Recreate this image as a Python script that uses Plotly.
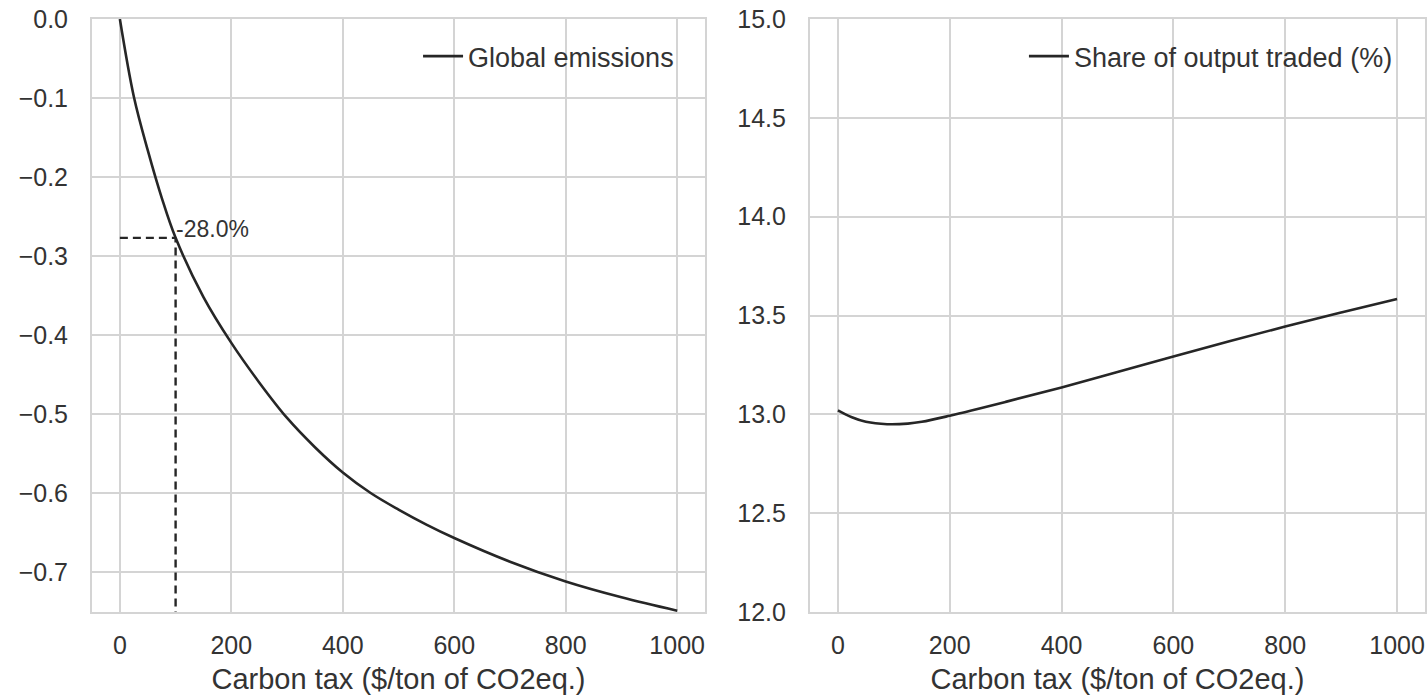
import plotly.graph_objects as go

# ---------------- data ----------------
tax_left = [0, 25, 50, 75, 100, 150, 200, 250, 300, 350, 400, 450, 500, 550, 600, 700, 800, 900, 1000]
emissions = [0.0, -0.098, -0.166, -0.226, -0.277, -0.352, -0.410, -0.460, -0.505, -0.542,
             -0.574, -0.600, -0.621, -0.640, -0.657, -0.687, -0.712, -0.732, -0.749]

tax_right = [0, 25, 50, 88, 125, 150, 200, 300, 400, 500, 600, 700, 800, 900, 1000]
share_traded = [13.02, 12.985, 12.962, 12.95, 12.953, 12.962, 12.993, 13.063, 13.136,
                13.214, 13.293, 13.370, 13.444, 13.515, 13.584]

ref_tax = 100
ref_value = -0.277
ref_label = "-28.0%"

x_ticks = [0, 200, 400, 600, 800, 1000]
y_left_ticks = [0.0, -0.1, -0.2, -0.3, -0.4, -0.5, -0.6, -0.7]
y_left_text = ["0.0", "\u22120.1", "\u22120.2", "\u22120.3", "\u22120.4", "\u22120.5", "\u22120.6", "\u22120.7"]
y_right_ticks = [12.0, 12.5, 13.0, 13.5, 14.0, 14.5, 15.0]
y_right_text = ["12.0", "12.5", "13.0", "13.5", "14.0", "14.5", "15.0"]

x_title = "Carbon tax ($/ton of CO2eq.)"

# ---------------- style ----------------
FONT = "Liberation Sans, Arial, sans-serif"
TXT = "#333333"
GRID = "#d4d4d4"
LINE = "#262626"
TICK_FS = 25
TITLE_FS = 29
LEG_FS = 27
ANN_FS = 23

fig = go.Figure()

fig.add_trace(go.Scatter(
    x=tax_left, y=emissions, mode="lines", name="Global emissions",
    line=dict(color=LINE, width=2.6, shape="spline", smoothing=1.0),
    xaxis="x", yaxis="y", legend="legend", showlegend=True,
))
# dashed reference lines
fig.add_trace(go.Scatter(
    x=[0, ref_tax], y=[ref_value, ref_value], mode="lines",
    line=dict(color=LINE, width=2.4, dash="8px,5px"),
    xaxis="x", yaxis="y", showlegend=False, hoverinfo="skip",
))
fig.add_trace(go.Scatter(
    x=[ref_tax, ref_tax], y=[-0.76, ref_value], mode="lines",
    line=dict(color=LINE, width=2.4, dash="8px,5px"),
    xaxis="x", yaxis="y", showlegend=False, hoverinfo="skip",
))
fig.add_trace(go.Scatter(
    x=tax_right, y=share_traded, mode="lines", name="Share of output traded (%)",
    line=dict(color=LINE, width=2.6, shape="spline", smoothing=1.0),
    xaxis="x2", yaxis="y2", legend="legend2", showlegend=True,
))

fig.add_annotation(
    x=ref_tax, y=ref_value, xref="x", yref="y", text=ref_label, showarrow=False,
    xanchor="left", yanchor="bottom", xshift=-2, yshift=-6,
    font=dict(family=FONT, size=ANN_FS, color=TXT),
)

base = dict(
    showgrid=True, gridcolor=GRID, gridwidth=2,
    showline=True, linecolor=GRID, linewidth=2, mirror=True,
    zeroline=False, ticks="outside", tickcolor="rgba(0,0,0,0)",
    tickfont=dict(family=FONT, size=TICK_FS, color=TXT),
    ticklabeloverflow="allow", automargin=False,
)
xax = dict(base, ticklen=10)
yax = dict(base, ticklen=17)
xtitle = dict(text=x_title, font=dict(family=FONT, size=TITLE_FS, color=TXT), standoff=11)

fig.update_layout(
    width=1428, height=698,
    margin=dict(l=92, r=3, t=19, b=86),
    paper_bgcolor="white", plot_bgcolor="white",
    font=dict(family=FONT, size=TICK_FS, color=TXT),
    xaxis=dict(xax, domain=[0, 0.4599], range=[-50, 1050], tickvals=x_ticks,
               title=xtitle, anchor="y"),
    yaxis=dict(yax, domain=[0, 1], range=[-0.7506, 0.0], tickvals=y_left_ticks,
               ticktext=y_left_text, anchor="x"),
    xaxis2=dict(xax, domain=[0.5386, 1], range=[-50, 1050], tickvals=x_ticks,
                title=xtitle, anchor="y2"),
    yaxis2=dict(yax, domain=[0, 1], range=[12.0, 15.0], tickvals=y_right_ticks,
                ticktext=y_right_text, anchor="x2"),
    legend=dict(x=0.4404, y=0.978, xanchor="right", yanchor="top",
                bgcolor="rgba(255,255,255,0)", font=dict(family=FONT, size=LEG_FS, color=TXT),
                itemwidth=40),
    legend2=dict(x=0.9797, y=0.978, xanchor="right", yanchor="top",
                 bgcolor="rgba(255,255,255,0)", font=dict(family=FONT, size=LEG_FS, color=TXT),
                 itemwidth=40),
    showlegend=True,
)

fig.write_html(
    "out.html",
    config={"displayModeBar": False},
    post_script="document.body.style.margin='0';document.body.style.overflow='hidden';",
)
